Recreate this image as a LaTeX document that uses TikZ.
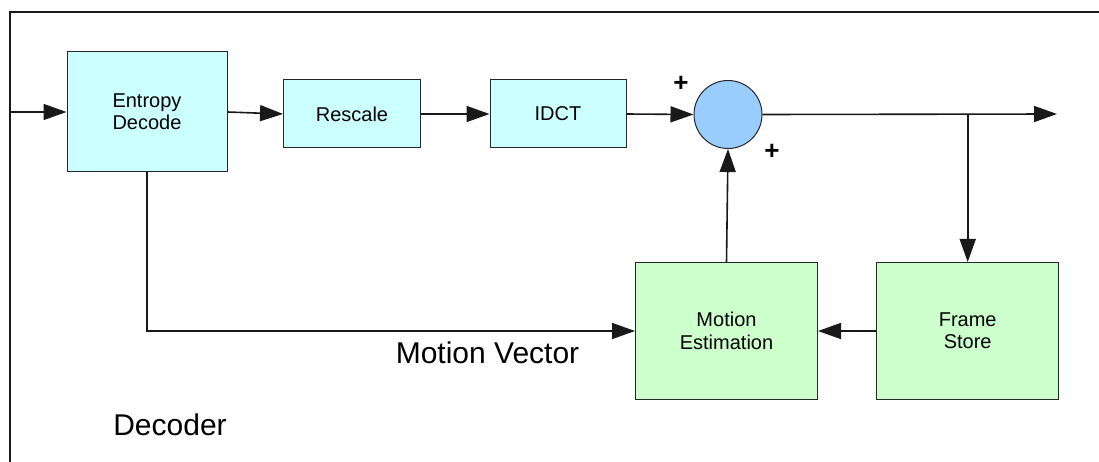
\documentclass[tikz,border=0pt]{standalone}
\usepackage{fontspec}
\setmainfont{Liberation Sans}
\usetikzlibrary{arrows.meta}
\definecolor{cyanbox}{HTML}{CCFFFF}
\definecolor{greenbox}{HTML}{CCFFCC}
\definecolor{sumfill}{HTML}{99CCFF}
\tikzset{
  blk/.style={draw=black!85, line width=1pt, rectangle, inner sep=0pt, align=center,
    font=\fontsize{20}{22.4}\selectfont},
  cyanblk/.style={blk, fill=cyanbox},
  greenblk/.style={blk, fill=greenbox},
  sumnode/.style={draw=black!85, line width=1pt, circle, fill=sumfill, minimum size=68pt, inner sep=0pt},
  conn/.style={line width=1.6pt, draw=black!90, -{Triangle[length=23pt,width=16pt]}},
  wire/.style={line width=1.6pt, draw=black!90},
  biglbl/.style={font=\fontsize{30}{33}\selectfont, inner sep=0pt},
  signlbl/.style={font=\fontsize{26}{28}\selectfont\bfseries, inner sep=0pt}
}
\begin{document}
\begin{tikzpicture}[x=1pt,y=-1pt]
\path[use as bounding box] (0,0) rectangle (1099,462);
\clip (0,0) rectangle (1099,462);
\fill[white] (0,0) rectangle (1099,462);
% frame
\draw[line width=2pt, draw=black!90] (10,470) -- (10,11.7) -- (1110,11.7);
% blocks
\node[cyanblk, minimum width=160pt, minimum height=120pt] (ed) at (147,112) {Entropy\\Decode};
\node[cyanblk, minimum width=137pt, minimum height=68pt] (rs) at (352,114) {Rescale};
\node[cyanblk, minimum width=136pt, minimum height=68pt] (idct) at (558,114) {IDCT};
\node[sumnode] (sum) at (728,114.5) {};
\node[greenblk, minimum width=182pt, minimum height=137pt] (me) at (726.5,331) {Motion\\Estimation};
\node[greenblk, minimum width=182pt, minimum height=137pt] (fs) at (967.7,331) {Frame\\Store};
% connection points
\coordinate (in) at (10,112);
\coordinate (out) at (1057,114);
\coordinate (br) at (967.7,114);
\coordinate (mvc) at (147,331);
% connectors
\draw[conn] (in) -- (ed.west);
\draw[conn] (ed.east) -- (rs.west);
\draw[conn] (rs.east) -- (idct.west);
\draw[conn] (idct.east) -- (sum.west);
\draw[conn] (sum.east) -- (out);
\draw[conn] (br) -- (fs.north);
\draw[conn] (fs.west) -- (me.east);
\draw[conn] (me.north) -- (sum.south);
\draw[conn] (ed.south) -- (mvc) -- (me.west);
% labels
\node[signlbl] (p1) at (681,84) {+};
\node[signlbl] (p2) at (772,152) {+};
\node[biglbl, anchor=base] (mv) at (487.5,363.3) {Motion Vector};
\node[biglbl, anchor=base] (dec) at (170,435) {Decoder};
\end{tikzpicture}
\end{document}
